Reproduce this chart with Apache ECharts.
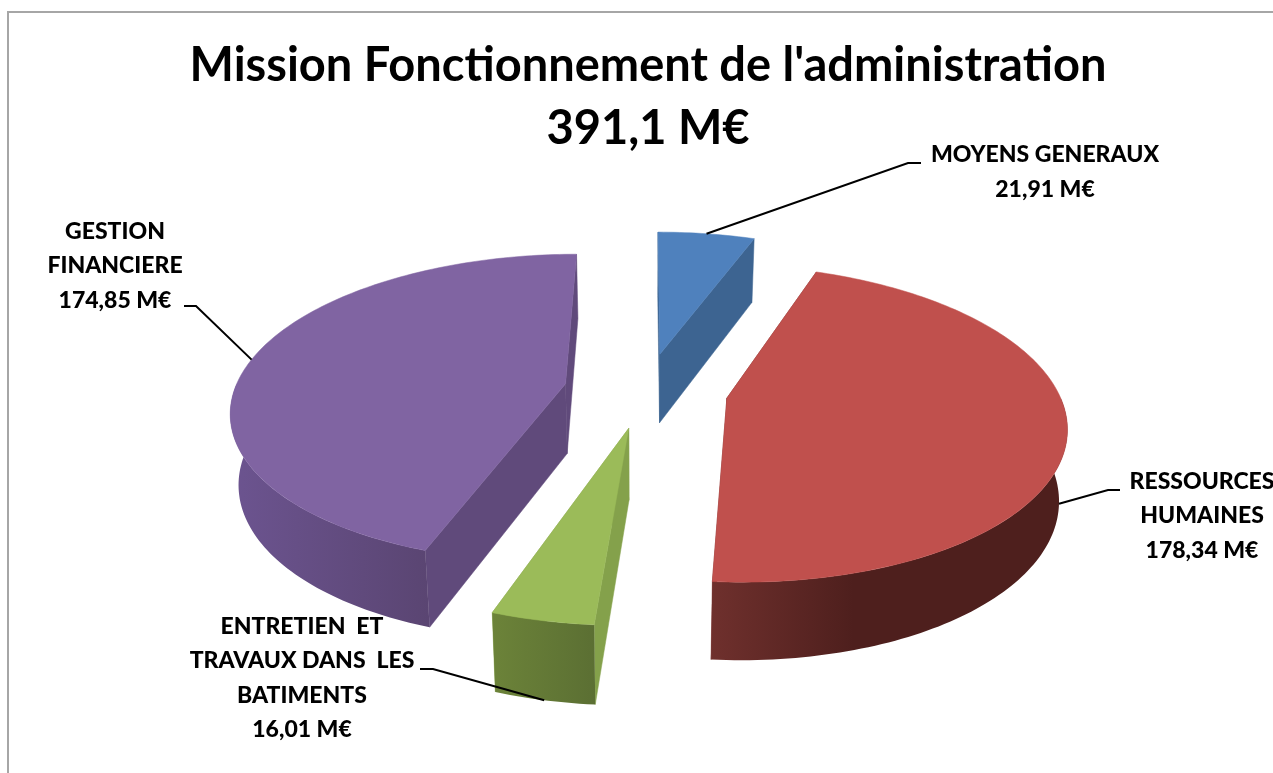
<!DOCTYPE html>
<html>
<head>
<meta charset="utf-8">
<title>Mission Fonctionnement de l'administration</title>
<script src="https://cdn.jsdelivr.net/npm/echarts@6/dist/echarts.min.js"></script>
<style>
  html, body { margin: 0; padding: 0; background: #fff; overflow: hidden; }
  #chart { width: 1273px; height: 773px; }
</style>
</head>
<body>
<div id="chart"></div>
<script>
const categories = ['MOYENS GENERAUX', 'RESSOURCES\nHUMAINES', 'ENTRETIEN  ET\nTRAVAUX DANS  LES\nBATIMENTS', 'GESTION\nFINANCIERE'];
const values = [21.91, 178.34, 16.01, 174.85];
const titleLines = ["Mission Fonctionnement de l'administration", '391,1 M€'];

const topColors = ['#4f81bd', '#c0504d', '#9bbb59', '#8064a2'];
const cutColors = ['#3d6491', '#7a302e', '#84a14b', '#604a7b'];
const wallStops = [
  [[0, '#3d6491'], [1, '#3d6491']],
  [[0, '#6f302d'], [0.4, '#4e1f1d'], [1, '#4e1f1d']],
  [[0, '#6c8339'], [1, '#5b6f33']],
  [[0, '#6c5490'], [1, '#5a4572']],
];

// label centre, elbow and end of the leader line, z of the anchor on the rim
const labelLayout = [
  { x: 1045, y: 172, elbow: [908, 163], end: [921, 163], z: 0 },
  { x: 1202, y: 516, elbow: [1108, 490], end: [1120, 490], z: 1 },
  { x: 302, y: 678, elbow: [433, 669], end: [420, 669], z: 1 },
  { x: 115, y: 266, elbow: [196, 306], end: [184, 306], z: 0 },
];

const CENTER = [646, 390];
const RADIUS_X = 331;
const RADIUS_Y = 152;
const PERSPECTIVE = 0.159;
const EXPLODE = 0.248;
const DEPTH = 70;

const total = values.reduce((a, b) => a + b, 0);

function project(x, y, z) {
  const k = 1 / (1 - PERSPECTIVE * y);
  const sx = CENTER[0] + RADIUS_X * x * k;
  const sy = CENTER[1] + RADIUS_Y * y * k;
  const depth = (DEPTH + 40 * (k - 1)) * z;
  return [sx - (sx - CENTER[0]) * 0.02 * z, sy + depth];
}

function sliceAngles(index) {
  const before = values.slice(0, index).reduce((a, b) => a + b, 0);
  return [before / total * Math.PI * 2, (before + values[index]) / total * Math.PI * 2];
}

function rimPoints(a0, a1, ox, oy, z) {
  const pts = [];
  const steps = Math.max(2, Math.ceil((a1 - a0) / 0.02));
  for (let s = 0; s <= steps; s += 1) {
    const a = a0 + (a1 - a0) * s / steps;
    pts.push(project(ox + Math.sin(a), oy - Math.cos(a), z));
  }
  return pts;
}

function renderSlice(params, api) {
  const i = api.value(0);
  const [a0, a1] = sliceAngles(i);
  const mid = (a0 + a1) / 2;
  const ox = Math.sin(mid) * EXPLODE;
  const oy = -Math.cos(mid) * EXPLODE;
  const children = [];

  const poly = (points, fill) => ({
    type: 'polygon',
    shape: { points },
    style: { fill, stroke: fill, lineWidth: 0.5 },
  });

  // cut faces
  [a0, a1].forEach((a) => {
    const rx = ox + Math.sin(a);
    const ry = oy - Math.cos(a);
    children.push(poly([
      project(ox, oy, 0), project(rx, ry, 0), project(rx, ry, 1), project(ox, oy, 1),
    ], cutColors[i]));
  });

  // outer wall, front facing part only
  const w0 = Math.max(a0, Math.PI / 2);
  const w1 = Math.min(a1, Math.PI * 1.5);
  if (w1 > w0) {
    const upper = rimPoints(w0, w1, ox, oy, 0);
    const lower = rimPoints(w0, w1, ox, oy, 1).reverse();
    const stops = wallStops[i].map(([offset, color]) => ({ offset, color }));
    children.push({
      type: 'polygon',
      shape: { points: upper.concat(lower) },
      style: { fill: new echarts.graphic.LinearGradient(0, 0, 1, 0, stops) },
    });
  }

  // top face
  children.push(poly([project(ox, oy, 0)].concat(rimPoints(a0, a1, ox, oy, 0)), topColors[i]));

  // leader line and label
  const layout = labelLayout[i];
  const anchor = project(ox + Math.sin(mid), oy - Math.cos(mid), layout.z);
  children.push({
    type: 'polyline',
    shape: { points: [anchor, layout.elbow, layout.end] },
    style: { stroke: '#000', lineWidth: 2, fill: null },
  });
  children.push({
    type: 'text',
    style: {
      text: `${categories[i]}\n${String(values[i]).replace('.', ',')} M€`,
      x: layout.x,
      y: layout.y,
      align: 'center',
      verticalAlign: 'middle',
      fontFamily: 'Lato',
      fontWeight: 900,
      fontSize: 23,
      lineHeight: 34.5,
      fill: '#000',
    },
  });

  return { type: 'group', children };
}

const chart = echarts.init(document.getElementById('chart'));

chart.setOption({
  animation: false,
  backgroundColor: '#fff',
  title: {
    text: titleLines.join('\n'),
    left: 643,
    top: 29,
    textAlign: 'center',
    textStyle: {
      fontFamily: 'Lato',
      fontWeight: 'bold',
      fontSize: 47,
      lineHeight: 63,
      color: '#000',
    },
  },
  graphic: [{
    type: 'polyline',
    shape: { points: [[8, 773], [8, 12], [1273, 12]] },
    style: { stroke: '#a6a6a6', lineWidth: 2, fill: null },
  }],
  series: [{
    type: 'custom',
    coordinateSystem: 'none',
    silent: true,
    renderItem: renderSlice,
    data: values.map((v, i) => [i, v]),
  }],
});
</script>
</body>
</html>
